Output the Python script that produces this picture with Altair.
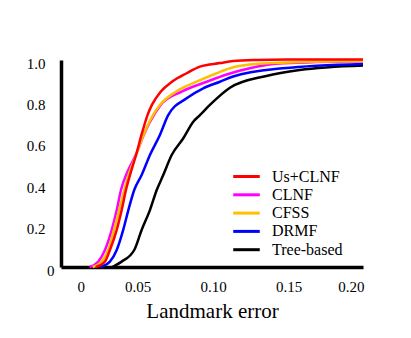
import altair as alt
import pandas as pd

methods = ["Us+CLNF", "CLNF", "CFSS", "DRMF", "Tree-based"]
colors = ["#ff0000", "#ff00ff", "#ffc000", "#0000ff", "#000000"]

us_x = [0.023, 0.0291, 0.0324, 0.0369, 0.0402, 0.0430, 0.0467, 0.0497, 0.0533, 0.0573, 0.0602, 0.0660, 0.0735, 0.0832, 0.092, 0.1053, 0.114, 0.13, 0.15, 0.2]
us_y = [0.0, 0.026, 0.082, 0.179, 0.275, 0.372, 0.469, 0.541, 0.638, 0.734, 0.783, 0.847, 0.895, 0.936, 0.968, 0.985, 0.995, 1.0, 1.002, 1.003]

clnf_x = [0.019, 0.0247, 0.0291, 0.0336, 0.0369, 0.0397, 0.0440, 0.0495, 0.0548, 0.0590, 0.0660, 0.0799, 0.0965, 0.1097, 0.125, 0.147, 0.2]
clnf_y = [0.0, 0.026, 0.082, 0.179, 0.275, 0.372, 0.460, 0.541, 0.638, 0.702, 0.783, 0.847, 0.895, 0.93, 0.96, 0.984, 0.994]

cfss_x = [0.021, 0.0269, 0.0313, 0.0351, 0.0386, 0.0419, 0.0447, 0.0497, 0.0546, 0.0586, 0.0609, 0.0655, 0.0761, 0.0898, 0.1031, 0.1119, 0.125, 0.15, 0.2]
cfss_y = [0.0, 0.026, 0.082, 0.179, 0.275, 0.372, 0.444, 0.541, 0.638, 0.702, 0.734, 0.783, 0.847, 0.895, 0.936, 0.960, 0.978, 0.988, 0.995]

drmf_x = [0.026, 0.0324, 0.0369, 0.0412, 0.0446, 0.0485, 0.0534, 0.0589, 0.0655, 0.0710, 0.0832, 0.0942, 0.1053, 0.114, 0.147, 0.2]
drmf_y = [0.0, 0.026, 0.082, 0.179, 0.275, 0.372, 0.444, 0.541, 0.638, 0.734, 0.815, 0.863, 0.895, 0.92, 0.96, 0.981]

tree_x = [0.034, 0.0402, 0.0485, 0.0534, 0.0589, 0.0634, 0.0677, 0.0733, 0.0810, 0.0876, 0.092, 0.0986, 0.1119, 0.136, 0.158, 0.2]
tree_y = [0.0, 0.026, 0.082, 0.179, 0.275, 0.372, 0.444, 0.541, 0.622, 0.702, 0.734, 0.783, 0.866, 0.923, 0.952, 0.974]

x_ticks = [0, 0.05, 0.1, 0.15, 0.2]
y_ticks = [0, 0.2, 0.4, 0.6, 0.8, 1.0]

series = [
    ("Tree-based", tree_x, tree_y),
    ("DRMF", drmf_x, drmf_y),
    ("CLNF", clnf_x, clnf_y),
    ("CFSS", cfss_x, cfss_y),
    ("Us+CLNF", us_x, us_y),
]
rows = []
for k, (name, xs, ys) in enumerate(series):
    for i, (a, b) in enumerate(zip(xs, ys)):
        rows.append({"method": name, "err": a, "frac": b, "grp": k, "idx": i})
df = pd.DataFrame(rows)

FONT = "Liberation Serif, Times New Roman, serif"

chart = alt.Chart(df).mark_line(strokeWidth=2.5, interpolate="monotone", clip=False).encode(
    x=alt.X("err:Q", scale=alt.Scale(domain=[0, 0.2], nice=False, zero=False),
            axis=alt.Axis(values=x_ticks, title="Landmark error",
                          labelExpr="datum.value == 0 ? '0' : format(datum.value, '.2f')",
                          labelOffset={"condition": {"test": "datum.value == 0", "value": 16}, "value": 1},
                          labelFont=FONT, labelFontSize=15, labelColor="#000000",
                          titleFont=FONT, titleFontSize=21, titleFontWeight="normal", titleColor="#000000",
                          labelPadding=12, titlePadding=6)),
    y=alt.Y("frac:Q", scale=alt.Scale(domain=[0, 1], nice=False),
            axis=alt.Axis(values=y_ticks, title=None,
                          labelExpr="datum.value == 0 ? '0' : format(datum.value, '.1f')",
                          labelFont=FONT, labelFontSize=15, labelColor="#000000",
                          labelOffset=3,
                          labelPadding={"condition": {"test": "datum.value == 0", "value": 7}, "value": 16})),
    color=alt.Color("method:N", scale=alt.Scale(domain=methods, range=colors),
                    legend=alt.Legend(title=None, orient="none", legendX=177, legendY=108,
                                      symbolType="M-2,0H2", symbolSize=176, symbolStrokeWidth=3,
                                      labelFont=FONT, labelFontSize=16, labelOffset=17,
                                      rowPadding=1.3, padding=0, labelColor="#000000")),
    detail="grp:N",
    order="idx:Q",
).properties(
    width=302, height=207,
    autosize=alt.AutoSizeParams(type="none"),
    padding={"left": 53, "top": 52, "right": 40, "bottom": 60},
).configure_view(strokeWidth=0).configure_axis(
    grid=False, tickSize=0, domainColor="#000000", domainWidth=3.5,
)

chart.save("out.html", embed_options={"renderer": "svg", "actions": False})
